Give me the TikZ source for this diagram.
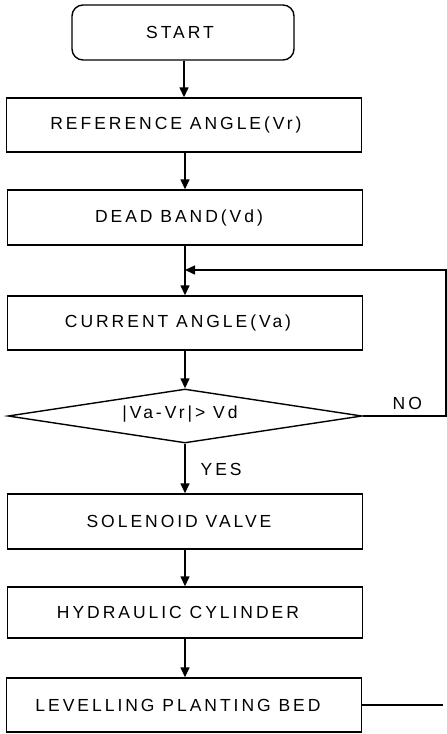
\documentclass[tikz,border=0pt]{standalone}
\usepackage{fontspec}
\setmainfont{Liberation Sans}[LetterSpace=17]
\usetikzlibrary{arrows.meta,shapes.geometric}
\begin{document}
\begin{tikzpicture}[x=1pt,y=-1pt,
  line width=1.4pt,
  font=\fontsize{17.5}{20}\selectfont,
  stepbox/.style={draw,rectangle,minimum width=355pt,inner sep=0pt},
  startbox/.style={draw,rectangle,rounded corners=11pt,minimum width=222pt,minimum height=55pt,inner sep=0pt},
  decision/.style={draw,diamond,minimum width=354pt,minimum height=54pt,inner sep=0pt},
  arr/.style={-{Triangle[length=10pt,width=9pt]}},
  tag/.style={inner sep=0pt}]
\useasboundingbox (0,0) rectangle (447,734);

% steps of the control loop
\node[startbox] (start) at (183,32.5) {};
\node[tag] at (180,32.5) {START};
\node[stepbox,minimum height=54pt,label={[xshift=-8pt]center:REFERENCE ANGLE(Vr)}] (ref) at (184,125) {};
\node[stepbox,minimum height=55pt,label={[xshift=-6pt]center:DEAD BAND(Vd)}] (dead) at (185,217.5) {};
\node[stepbox,minimum height=54pt,label={[xshift=-7pt]center:CURRENT ANGLE(Va)}] (cur) at (185,323) {};
\node[decision] (dec) at (185,416) {};
\node[tag] at (180,414) {|Va-Vr|>\ Vd};
\node[stepbox,minimum height=55pt,label={[xshift=-6pt]center:SOLENOID VALVE}] (sol) at (185,521.5) {};
\node[stepbox,minimum height=51pt,label={[xshift=-7pt]center:HYDRAULIC CYLINDER}] (hyd) at (185,612.5) {};
\node[stepbox,minimum height=54pt,label={[xshift=-6pt]center:LEVELLING PLANTING BED}] (lev) at (184,705) {};

% branch labels
\node[tag,anchor=west] (yes) at (200,469) {YES};
\node[tag,anchor=west] (no) at (392,403) {NO};

% connectors
\coordinate (join) at (185,270);
\coordinate (rtop) at (446,270);
\coordinate (rbot) at (446,416);
\coordinate (tail) at (443,705);

\draw[arr] (start.south -| 184,0) -- (ref.north -| 184,0);
\draw[arr] (ref.south -| 185,0) -- (dead.north -| 185,0);
\draw[arr] (dead.south) -- (cur.north);
\draw[arr] (cur.south) -- (dec.north);
\draw[arr] (dec.south) -- (sol.north);
\draw[arr] (sol.south) -- (hyd.north);
\draw[arr] (hyd.south) -- (lev.north -| hyd.south);
\draw[arr] (dec.east) -- (rbot) -- (rtop) -- (join);
\draw (lev.east) -- (tail);
\end{tikzpicture}
\end{document}
